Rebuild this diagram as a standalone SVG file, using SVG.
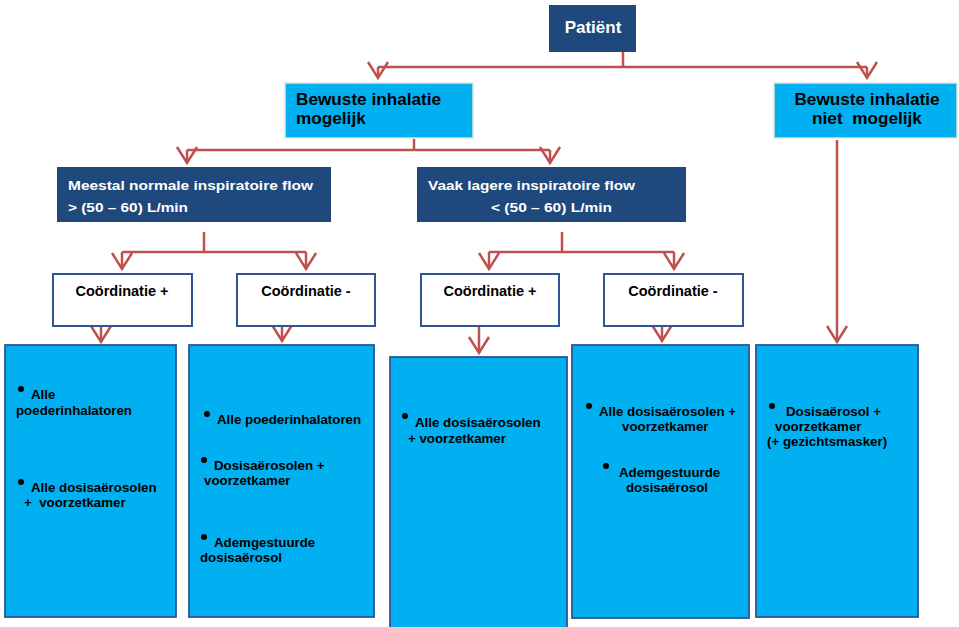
<svg xmlns="http://www.w3.org/2000/svg" width="959" height="627" viewBox="0 0 959 627">
<style>
.dark{fill:#1F497D;}
.cyan{fill:#00B0F0;stroke:#E6E2D8;stroke-width:1.5;}
.coord{fill:#FFFFFF;stroke:#2F5597;stroke-width:2;}
.opt{fill:#00B0F0;stroke:#2F5597;stroke-width:1.8;}
.wt{fill:#FFFFFF;font-family:"Liberation Sans",Arial,sans-serif;font-weight:bold;font-size:13px;}
.bt{fill:#000000;font-family:"Liberation Sans",Arial,sans-serif;font-weight:bold;font-size:17.2px;}
.ct{fill:#000000;font-family:"Liberation Sans",Arial,sans-serif;font-weight:bold;font-size:14.5px;text-anchor:middle;}
.it{fill:#000000;font-family:"Liberation Sans",Arial,sans-serif;font-weight:bold;font-size:13.3px;}
.dot{fill:#000000;}
.conn{fill:none;stroke:#C0504D;stroke-width:2.5;}
</style>
<defs>
<marker id="ah" markerUnits="userSpaceOnUse" markerWidth="30" markerHeight="30" viewBox="-20 -15 25 30" refX="0" refY="0" orient="auto">
<path d="M-16,-10 L0,0 L-16,10" fill="none" stroke="#C0504D" stroke-width="2.5"/>
</marker>
</defs>
<rect width="959" height="627" fill="#FFFFFF"/>

<g id="connectors">
<path class="conn" d="M623,52 V67"/>
<path class="conn" d="M378,67 H867"/>
<path class="conn" d="M378,67 V78" marker-end="url(#ah)"/>
<path class="conn" d="M867,67 V78" marker-end="url(#ah)"/>
<path class="conn" d="M414,139 V150"/>
<path class="conn" d="M187,150 H550"/>
<path class="conn" d="M187,150 V163" marker-end="url(#ah)"/>
<path class="conn" d="M550,150 V163" marker-end="url(#ah)"/>
<path class="conn" d="M204,232 V252"/>
<path class="conn" d="M122,252 H306"/>
<path class="conn" d="M122,252 V269" marker-end="url(#ah)"/>
<path class="conn" d="M306,252 V269" marker-end="url(#ah)"/>
<path class="conn" d="M562,232 V252"/>
<path class="conn" d="M489,252 H674"/>
<path class="conn" d="M489,252 V269" marker-end="url(#ah)"/>
<path class="conn" d="M674,252 V269" marker-end="url(#ah)"/>
<path class="conn" d="M101,316 V342" marker-end="url(#ah)"/>
<path class="conn" d="M282,316 V341" marker-end="url(#ah)"/>
<path class="conn" d="M479,327 V353" marker-end="url(#ah)"/>
<path class="conn" d="M662,316 V341" marker-end="url(#ah)"/>
<path class="conn" d="M837,140 V342" marker-end="url(#ah)"/>
</g>

<g id="patient">
<rect class="dark" x="549" y="5" width="87" height="47"/>
<text x="593" y="33" fill="#FFFFFF" font-family="Liberation Sans, Arial, sans-serif" font-weight="bold" font-size="17" text-anchor="middle">Patiënt</text>
</g>

<g id="bewust-mogelijk">
<rect class="cyan" x="285" y="83" width="188" height="55"/>
<text class="bt" x="296" y="105">Bewuste inhalatie</text>
<text class="bt" x="296" y="124">mogelijk</text>
</g>

<g id="bewust-niet">
<rect class="cyan" x="774" y="83" width="183" height="55"/>
<text class="bt" x="867" y="105" text-anchor="middle">Bewuste inhalatie</text>
<text class="bt" x="867" y="124" text-anchor="middle" xml:space="preserve">niet  mogelijk</text>
</g>

<g id="flow-normaal">
<rect class="dark" x="57" y="167" width="274" height="55"/>
<text class="wt" x="68" y="190" textLength="245" lengthAdjust="spacingAndGlyphs">Meestal normale inspiratoire flow</text>
<text class="wt" x="68" y="212" textLength="120" lengthAdjust="spacingAndGlyphs">&gt; (50 – 60) L/min</text>
</g>

<g id="flow-laag">
<rect class="dark" x="417" y="167" width="269" height="55"/>
<text class="wt" x="428" y="190" textLength="207" lengthAdjust="spacingAndGlyphs">Vaak lagere inspiratoire flow</text>
<text class="wt" x="491" y="212" textLength="121" lengthAdjust="spacingAndGlyphs">&lt; (50 – 60) L/min</text>
</g>

<g id="coord1">
<rect class="coord" x="53" y="274" width="139" height="52"/>
<text class="ct" x="122" y="296">Coördinatie +</text>
</g>
<g id="coord2">
<rect class="coord" x="237" y="274" width="138" height="52"/>
<text class="ct" x="306" y="296">Coördinatie -</text>
</g>
<g id="coord3">
<rect class="coord" x="421" y="274" width="138" height="52"/>
<text class="ct" x="490" y="296">Coördinatie +</text>
</g>
<g id="coord4">
<rect class="coord" x="604" y="274" width="139" height="52"/>
<text class="ct" x="673" y="296">Coördinatie -</text>
</g>

<g id="optie1">
<rect class="opt" x="5" y="345" width="171" height="272"/>
<circle class="dot" cx="21" cy="389" r="3"/>
<text class="it" x="31" y="399">Alle</text>
<text class="it" x="16" y="415">poederinhalatoren</text>
<circle class="dot" cx="21" cy="482" r="3"/>
<text class="it" x="31" y="492">Alle dosisaërosolen</text>
<text class="it" x="24" y="507" xml:space="preserve">+  voorzetkamer</text>
</g>

<g id="optie2">
<rect class="opt" x="189" y="345" width="185" height="272"/>
<circle class="dot" cx="207" cy="414" r="3"/>
<text class="it" x="217" y="424">Alle poederinhalatoren</text>
<circle class="dot" cx="204" cy="460" r="3"/>
<text class="it" x="214" y="470">Dosisaërosolen +</text>
<text class="it" x="204" y="485">voorzetkamer</text>
<circle class="dot" cx="204" cy="537" r="3"/>
<text class="it" x="214" y="547">Ademgestuurde</text>
<text class="it" x="200" y="562">dosisaërosol</text>
</g>

<g id="optie3">
<rect class="opt" x="390" y="357" width="177" height="275"/>
<circle class="dot" cx="405" cy="416" r="3"/>
<text class="it" x="415" y="427">Alle dosisaërosolen</text>
<text class="it" x="408" y="443">+ voorzetkamer</text>
</g>

<g id="optie4">
<rect class="opt" x="572" y="345" width="177" height="273"/>
<circle class="dot" cx="589" cy="406" r="3"/>
<text class="it" x="599" y="416">Alle dosisaërosolen +</text>
<text class="it" x="622" y="431">voorzetkamer</text>
<circle class="dot" cx="606" cy="466" r="3"/>
<text class="it" x="619" y="477">Ademgestuurde</text>
<text class="it" x="626" y="492">dosisaërosol</text>
</g>

<g id="optie5">
<rect class="opt" x="756" y="345" width="162" height="272"/>
<circle class="dot" cx="772" cy="406" r="3"/>
<text class="it" x="786" y="416">Dosisaërosol +</text>
<text class="it" x="775" y="431">voorzetkamer</text>
<text class="it" x="767" y="446">(+ gezichtsmasker)</text>
</g>
</svg>
